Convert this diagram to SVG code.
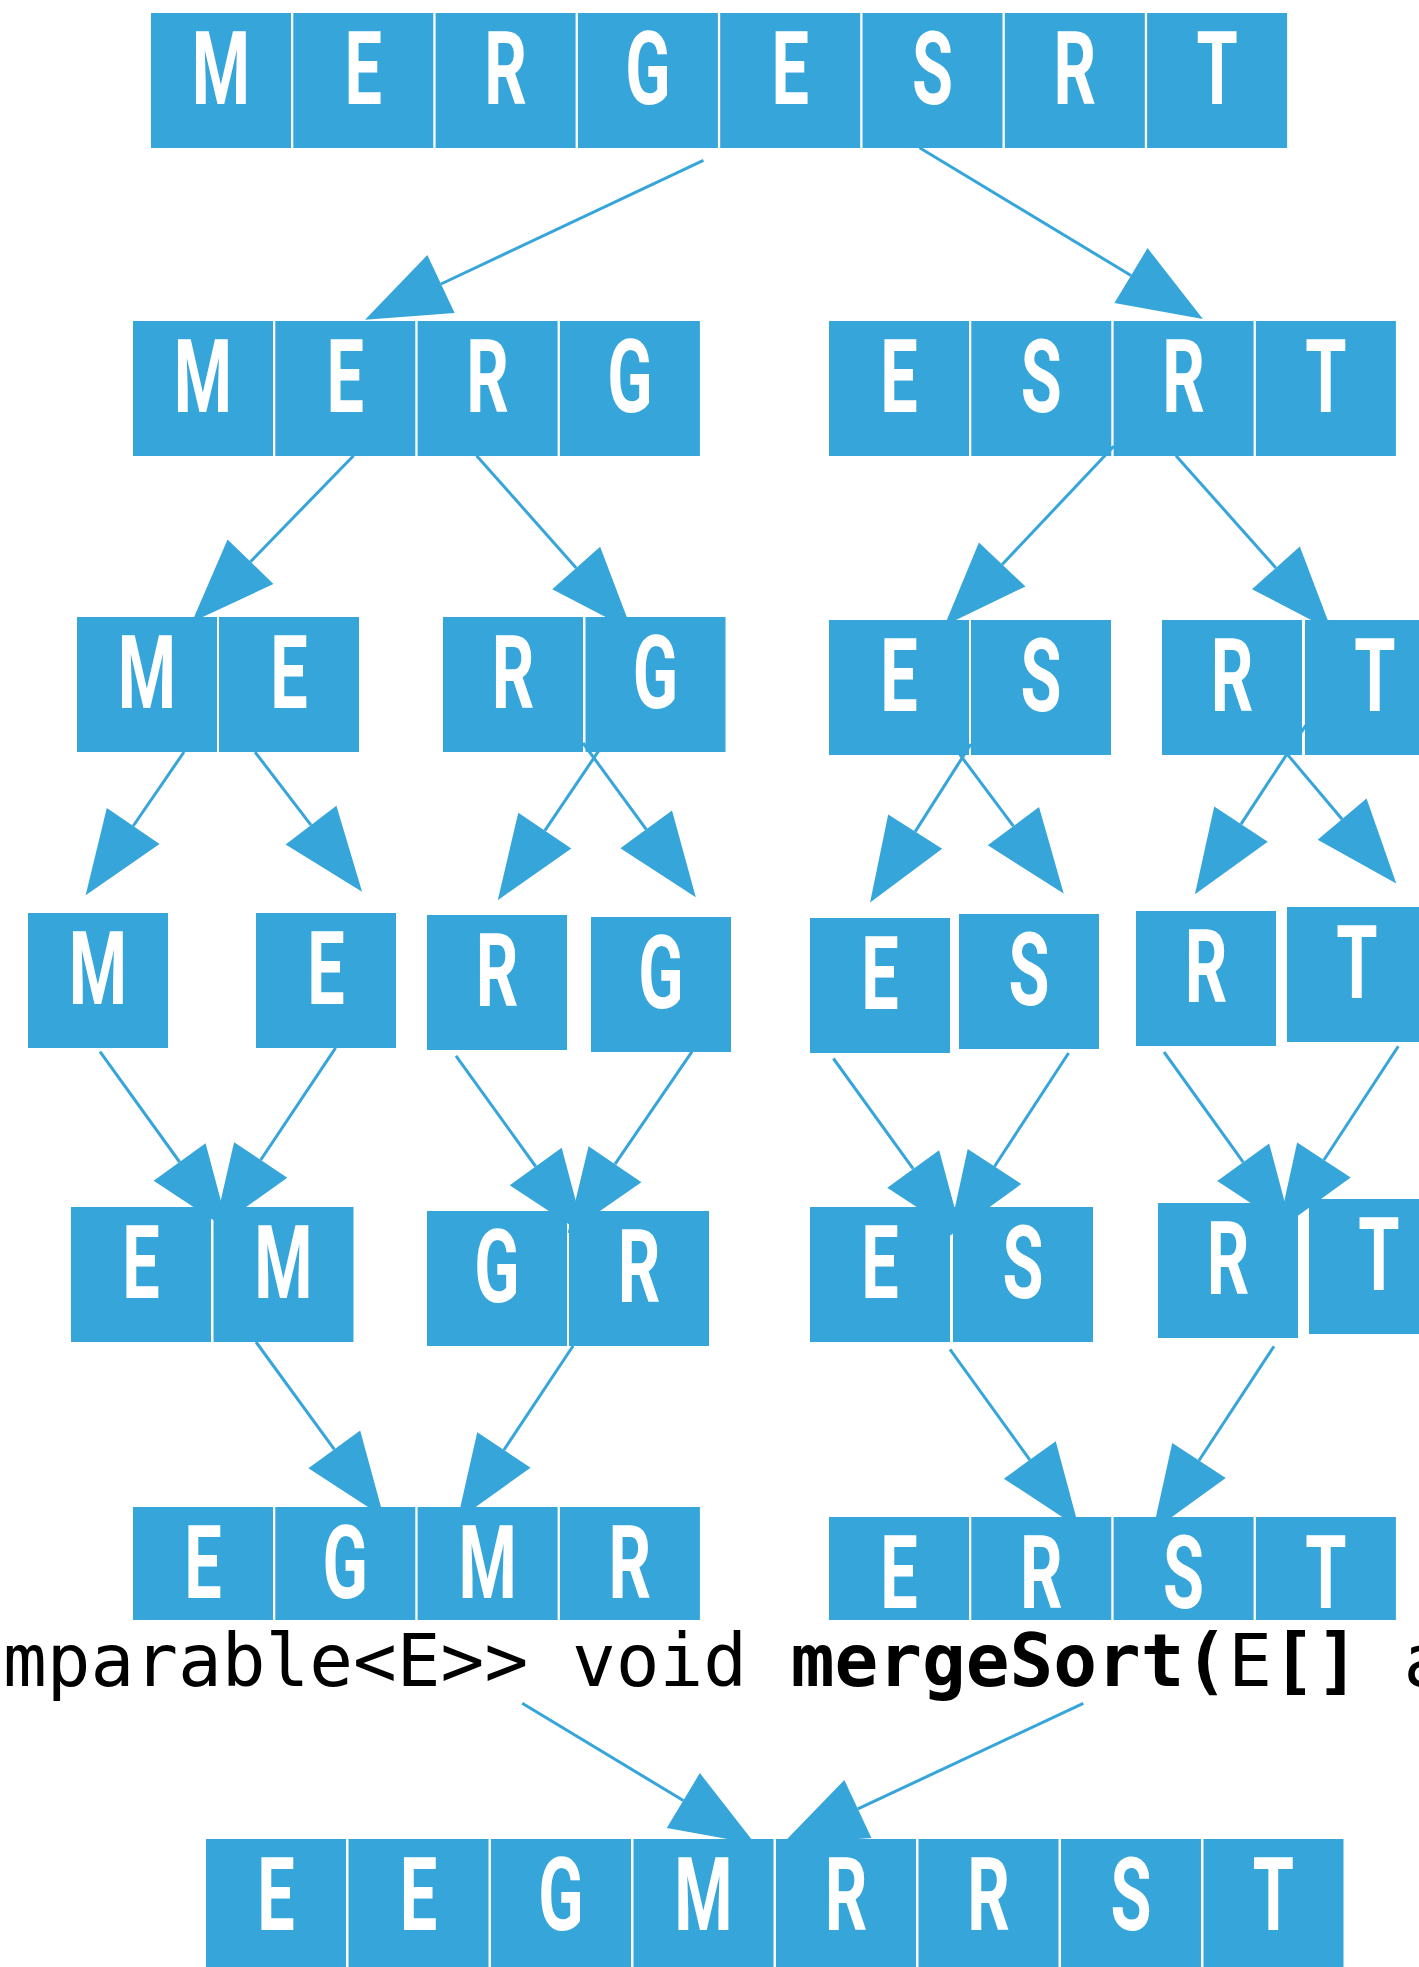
<svg xmlns="http://www.w3.org/2000/svg" width="1419" height="1967" viewBox="0 0 1419 1967">
<style>
.c{fill:#36a5da}
.L{font-family:Roboto,"Liberation Sans",sans-serif;font-weight:700;font-size:102.5px;fill:#fff;text-anchor:middle}
#connectors line{stroke:#36a5da;stroke-width:3;fill:none;marker-end:url(#ah)}
.code{font-family:"DejaVu Sans Mono","Liberation Mono",monospace;font-size:72.7px;fill:#000;white-space:pre}
.b{font-weight:700}
</style>
<defs>
<marker id="ah" markerUnits="userSpaceOnUse" markerWidth="84" markerHeight="64" refX="0" refY="32" orient="auto" overflow="visible">
<path d="M0,0 L84,32 L0,64 Z" fill="#36a5da"/>
</marker>
</defs>
<rect width="1419" height="1967" fill="#fff"/>

<g id="row1-MERGESRT">
<rect class="c" x="151" y="13" width="140" height="135"/>
<rect class="c" x="293.3" y="13" width="140" height="135"/>
<rect class="c" x="435.6" y="13" width="140" height="135"/>
<rect class="c" x="577.9" y="13" width="140" height="135"/>
<rect class="c" x="720.2" y="13" width="140" height="135"/>
<rect class="c" x="862.5" y="13" width="140" height="135"/>
<rect class="c" x="1004.8" y="13" width="140" height="135"/>
<rect class="c" x="1147.1" y="13" width="140" height="135"/>
<text class="L" transform="translate(221,104) scale(0.65,1)">M</text>
<text class="L" transform="translate(363.3,104) scale(0.65,1)">E</text>
<text class="L" transform="translate(505.6,104) scale(0.65,1)">R</text>
<text class="L" transform="translate(647.9,104) scale(0.65,1)">G</text>
<text class="L" transform="translate(790.2,104) scale(0.65,1)">E</text>
<text class="L" transform="translate(932.5,104) scale(0.65,1)">S</text>
<text class="L" transform="translate(1074.8,104) scale(0.65,1)">R</text>
<text class="L" transform="translate(1217.1,104) scale(0.65,1)">T</text>
</g>

<g id="row2-MERG">
<rect class="c" x="133" y="321" width="140" height="135"/>
<rect class="c" x="275.3" y="321" width="140" height="135"/>
<rect class="c" x="417.6" y="321" width="140" height="135"/>
<rect class="c" x="559.9" y="321" width="140" height="135"/>
<text class="L" transform="translate(203,412) scale(0.65,1)">M</text>
<text class="L" transform="translate(345.3,412) scale(0.65,1)">E</text>
<text class="L" transform="translate(487.6,412) scale(0.65,1)">R</text>
<text class="L" transform="translate(629.9,412) scale(0.65,1)">G</text>
</g>

<g id="row2-ESRT">
<rect class="c" x="829" y="321" width="140" height="135"/>
<rect class="c" x="971.3" y="321" width="140" height="135"/>
<rect class="c" x="1113.6" y="321" width="140" height="135"/>
<rect class="c" x="1255.9" y="321" width="140" height="135"/>
<text class="L" transform="translate(899,412) scale(0.65,1)">E</text>
<text class="L" transform="translate(1041.3,412) scale(0.65,1)">S</text>
<text class="L" transform="translate(1183.6,412) scale(0.65,1)">R</text>
<text class="L" transform="translate(1325.9,412) scale(0.65,1)">T</text>
</g>

<g id="row3-ME">
<rect class="c" x="77" y="617" width="140" height="135"/>
<rect class="c" x="219" y="617" width="140" height="135"/>
<text class="L" transform="translate(147,708) scale(0.65,1)">M</text>
<text class="L" transform="translate(289,708) scale(0.65,1)">E</text>
</g>

<g id="row3-RG">
<rect class="c" x="443" y="617" width="140" height="135"/>
<rect class="c" x="585.5" y="617" width="140" height="135"/>
<text class="L" transform="translate(513,708) scale(0.65,1)">R</text>
<text class="L" transform="translate(655.5,708) scale(0.65,1)">G</text>
</g>

<g id="row3-ES">
<rect class="c" x="829" y="620" width="140" height="135"/>
<rect class="c" x="971" y="620" width="140" height="135"/>
<text class="L" transform="translate(899,711) scale(0.65,1)">E</text>
<text class="L" transform="translate(1041,711) scale(0.65,1)">S</text>
</g>

<g id="row3-RT">
<rect class="c" x="1162" y="620" width="140" height="135"/>
<rect class="c" x="1305" y="620" width="140" height="135"/>
<text class="L" transform="translate(1232,711) scale(0.65,1)">R</text>
<text class="L" transform="translate(1375,711) scale(0.65,1)">T</text>
</g>

<g id="row4-M"><rect class="c" x="28" y="913" width="140" height="135"/><text class="L" transform="translate(98,1004) scale(0.65,1)">M</text></g>
<g id="row4-E"><rect class="c" x="256" y="913" width="140" height="135"/><text class="L" transform="translate(326,1004) scale(0.65,1)">E</text></g>
<g id="row4-R"><rect class="c" x="427" y="915" width="140" height="135"/><text class="L" transform="translate(497,1006) scale(0.65,1)">R</text></g>
<g id="row4-G"><rect class="c" x="591" y="917" width="140" height="135"/><text class="L" transform="translate(661,1008) scale(0.65,1)">G</text></g>
<g id="row4-E2"><rect class="c" x="810" y="918" width="140" height="135"/><text class="L" transform="translate(880,1009) scale(0.65,1)">E</text></g>
<g id="row4-S"><rect class="c" x="959" y="914" width="140" height="135"/><text class="L" transform="translate(1029,1005) scale(0.65,1)">S</text></g>
<g id="row4-R2"><rect class="c" x="1136" y="911" width="140" height="135"/><text class="L" transform="translate(1206,1002) scale(0.65,1)">R</text></g>
<g id="row4-T"><rect class="c" x="1287" y="907" width="140" height="135"/><text class="L" transform="translate(1357,998) scale(0.65,1)">T</text></g>

<g id="row5-EM">
<rect class="c" x="71" y="1207" width="140" height="135"/>
<rect class="c" x="213.5" y="1207" width="140" height="135"/>
<text class="L" transform="translate(141,1298) scale(0.65,1)">E</text>
<text class="L" transform="translate(283.5,1298) scale(0.65,1)">M</text>
</g>

<g id="row5-GR">
<rect class="c" x="427" y="1211" width="140" height="135"/>
<rect class="c" x="569" y="1211" width="140" height="135"/>
<text class="L" transform="translate(497,1302) scale(0.65,1)">G</text>
<text class="L" transform="translate(639,1302) scale(0.65,1)">R</text>
</g>

<g id="row5-ES">
<rect class="c" x="810" y="1207" width="140" height="135"/>
<rect class="c" x="953" y="1207" width="140" height="135"/>
<text class="L" transform="translate(880,1298) scale(0.65,1)">E</text>
<text class="L" transform="translate(1023,1298) scale(0.65,1)">S</text>
</g>

<g id="row5-RT">
<rect class="c" x="1158" y="1203" width="140" height="135"/>
<rect class="c" x="1309" y="1199" width="140" height="135"/>
<text class="L" transform="translate(1228,1294) scale(0.65,1)">R</text>
<text class="L" transform="translate(1379,1290) scale(0.65,1)">T</text>
</g>

<g id="row6-EGMR">
<rect class="c" x="133" y="1507" width="140" height="113"/>
<rect class="c" x="275.3" y="1507" width="140" height="113"/>
<rect class="c" x="417.6" y="1507" width="140" height="113"/>
<rect class="c" x="559.9" y="1507" width="140" height="113"/>
<text class="L" transform="translate(203,1598) scale(0.65,1)">E</text>
<text class="L" transform="translate(345.3,1598) scale(0.65,1)">G</text>
<text class="L" transform="translate(487.6,1598) scale(0.65,1)">M</text>
<text class="L" transform="translate(629.9,1598) scale(0.65,1)">R</text>
</g>

<g id="row6-ERST">
<rect class="c" x="829" y="1517" width="140" height="103"/>
<rect class="c" x="971.3" y="1517" width="140" height="103"/>
<rect class="c" x="1113.6" y="1517" width="140" height="103"/>
<rect class="c" x="1255.9" y="1517" width="140" height="103"/>
<text class="L" transform="translate(899,1608) scale(0.65,1)">E</text>
<text class="L" transform="translate(1041.3,1608) scale(0.65,1)">R</text>
<text class="L" transform="translate(1183.6,1608) scale(0.65,1)">S</text>
<text class="L" transform="translate(1325.9,1608) scale(0.65,1)">T</text>
</g>

<g id="row7-EEGMRRST">
<rect class="c" x="206" y="1839" width="140" height="135"/>
<rect class="c" x="348.5" y="1839" width="140" height="135"/>
<rect class="c" x="491" y="1839" width="140" height="135"/>
<rect class="c" x="633.5" y="1839" width="140" height="135"/>
<rect class="c" x="776" y="1839" width="140" height="135"/>
<rect class="c" x="918.5" y="1839" width="140" height="135"/>
<rect class="c" x="1061" y="1839" width="140" height="135"/>
<rect class="c" x="1203.5" y="1839" width="140" height="135"/>
<text class="L" transform="translate(276,1930) scale(0.65,1)">E</text>
<text class="L" transform="translate(418.5,1930) scale(0.65,1)">E</text>
<text class="L" transform="translate(561,1930) scale(0.65,1)">G</text>
<text class="L" transform="translate(703.5,1930) scale(0.65,1)">M</text>
<text class="L" transform="translate(846,1930) scale(0.65,1)">R</text>
<text class="L" transform="translate(988.5,1930) scale(0.65,1)">R</text>
<text class="L" transform="translate(1131,1930) scale(0.65,1)">S</text>
<text class="L" transform="translate(1273.5,1930) scale(0.65,1)">T</text>
</g>

<g id="code-line"><text class="code" x="3" y="1686">mparable&lt;E&gt;&gt; void <tspan class="b">mergeSort(</tspan>E<tspan class="b">[]</tspan> a</text></g>

<g id="connectors">
<line x1="703.4" y1="160.3" x2="441" y2="284"/>
<line x1="919.6" y1="147.7" x2="1131" y2="275.5"/>
<line x1="353.5" y1="455.7" x2="250.5" y2="561.7"/>
<line x1="476.6" y1="455.7" x2="576.2" y2="567.9"/>
<line x1="1114" y1="446" x2="1002.2" y2="564.5"/>
<line x1="1176" y1="455.7" x2="1275.9" y2="567.9"/>
<line x1="184" y1="752" x2="133.2" y2="826"/>
<line x1="255" y1="752" x2="311" y2="825.1"/>
<line x1="601.5" y1="746.7" x2="544.8" y2="830.6"/>
<line x1="583" y1="743" x2="646.2" y2="829.4"/>
<line x1="971" y1="744" x2="915.2" y2="831.6"/>
<line x1="952" y1="744" x2="1013.4" y2="826.2"/>
<line x1="1306" y1="725" x2="1241" y2="824.1"/>
<line x1="1282" y1="748" x2="1342.1" y2="819.2"/>
<line x1="100" y1="1051.6" x2="179.6" y2="1162"/>
<line x1="335.6" y1="1047.8" x2="260.7" y2="1160"/>
<line x1="456" y1="1055.8" x2="535.7" y2="1166.5"/>
<line x1="692" y1="1051.6" x2="615" y2="1164.2"/>
<line x1="833.4" y1="1058.5" x2="913.2" y2="1168.9"/>
<line x1="1068.6" y1="1053" x2="994.5" y2="1166.5"/>
<line x1="1164" y1="1052" x2="1243.2" y2="1162.2"/>
<line x1="1398.3" y1="1046.3" x2="1323.9" y2="1160"/>
<line x1="256" y1="1342" x2="334.3" y2="1449.4"/>
<line x1="573" y1="1346" x2="503.9" y2="1450"/>
<line x1="950" y1="1349.4" x2="1029.8" y2="1459.9"/>
<line x1="1274" y1="1346.3" x2="1199" y2="1460.5"/>
<line x1="522.2" y1="1703.3" x2="683.3" y2="1800.5"/>
<line x1="1083.3" y1="1703.3" x2="857.9" y2="1808.9"/>
</g>
</svg>
